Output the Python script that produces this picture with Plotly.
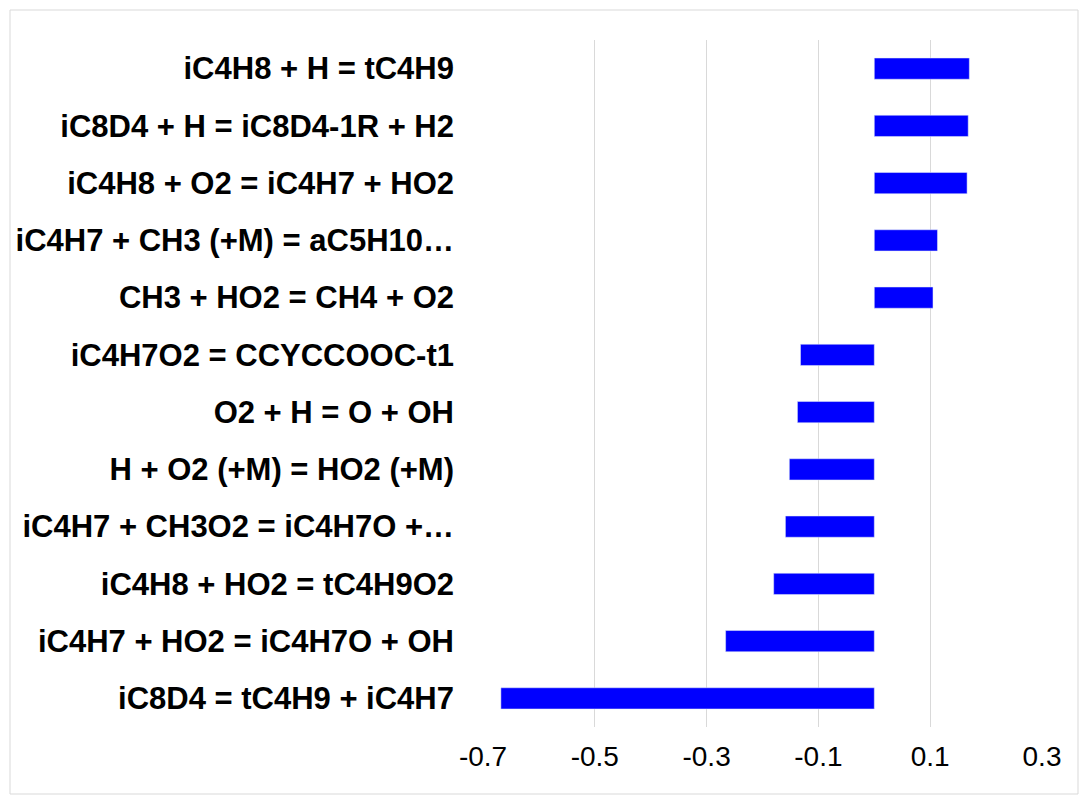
import plotly.graph_objects as go

reactions = ["iC8D4 = tC4H9 + iC4H7", "iC4H7 + HO2 = iC4H7O + OH", "iC4H8 + HO2 = tC4H9O2",
             "iC4H7 + CH3O2 = iC4H7O +…", "H + O2 (+M) = HO2 (+M)", "O2 + H = O + OH",
             "iC4H7O2 = CCYCCOOC-t1", "CH3 + HO2 = CH4 + O2", "iC4H7 + CH3 (+M) = aC5H10…",
             "iC4H8 + O2 = iC4H7 + HO2", "iC8D4 + H = iC8D4-1R + H2", "iC4H8 + H = tC4H9"]
values = [-0.668, -0.266, -0.18, -0.159, -0.152, -0.1375, -0.132, 0.105, 0.113, 0.166, 0.168, 0.17]
xticks = [-0.7, -0.5, -0.3, -0.1, 0.1, 0.3]

fig = go.Figure(go.Bar(y=reactions, x=values, orientation="h", marker_color="#0000FF", width=0.37))
L, R, T, B = 483, 42, 40, 72
W, H = 1084, 799
pw, ph = W - L - R, H - T - B
fig.update_layout(
    width=W, height=H, margin=dict(l=L, r=R, t=T, b=B),
    plot_bgcolor="white", paper_bgcolor="white", showlegend=False,
    font=dict(family="Liberation Sans, Arial", color="black"),
    xaxis=dict(range=[-0.7, 0.3], tickvals=xticks, ticktext=[f"{v:g}" for v in xticks],
               showgrid=True, gridcolor="#D9D9D9", gridwidth=1, zeroline=False,
               tickfont=dict(size=28), showline=False, ticklabelstandoff=10),
    yaxis=dict(tickfont=dict(size=31, family="Liberation Sans, Arial", weight="bold"),
               ticklabelstandoff=28, showgrid=False, zeroline=False, range=[-0.5, 11.5]),
    shapes=[dict(type="rect", xref="paper", yref="paper",
                 x0=(10 - L) / pw, x1=(1078 - L) / pw, y0=(T + ph - 794) / ph, y1=(T + ph - 10) / ph,
                 line=dict(color="#D9D9D9", width=1))],
)
html = fig.to_html(full_html=True, include_plotlyjs=True, config={"displayModeBar": False})
html = html.replace("<body>", '<body style="margin:0">', 1)
with open("out.html", "w", encoding="utf-8") as f:
    f.write(html)
